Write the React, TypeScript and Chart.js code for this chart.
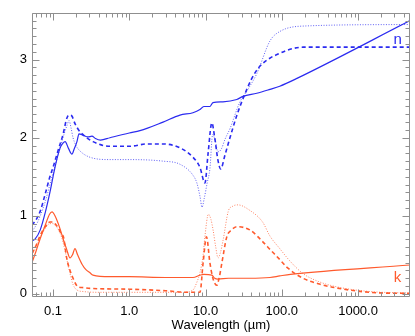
import React, { useEffect, useRef } from "react";
import { Chart, registerables } from "chart.js";

Chart.register(...registerables);

const BLUE = "#2b2bf0";
const ORANGE = "#ff5a2d";
const BLUE_LIGHT = "rgba(43,43,240,0.75)";
const ORANGE_LIGHT = "rgba(255,90,45,0.75)";
const AXIS = "#8f8f8f";
const FONT = "'Liberation Sans', Arial, Helvetica, sans-serif";

const xMin = 0.053;
const xMax = 4800;
const yMin = -0.04;
const yMax = 3.6;

const xTickValues = [0.1, 1, 10, 100, 1000];
const xTickLabels = ["0.1", "1.0", "10.0", "100.0", "1000.0"];
const yTickValues = [0, 1, 2, 3];
const yTickLabels = ["0", "1", "2", "3"];
const xTitle = "Wavelength (\u00b5m)";

// n, solid
const nSolidLambda = [0.053, 0.058, 0.068, 0.079, 0.091, 0.1, 0.112, 0.124, 0.135, 0.144, 0.16, 0.177, 0.19, 0.206, 0.219, 0.25, 0.287, 0.324, 0.36, 0.42, 0.558, 1.0, 1.38, 2.77, 4.62, 6.84, 8.45, 9.5, 11.4, 12.5, 16.9, 25.7, 31, 47, 70, 94, 158, 4800];
const nSolidValues = [0.68, 0.7, 0.82, 1.04, 1.3, 1.5, 1.72, 1.87, 1.93, 1.95, 1.86, 1.79, 1.86, 1.95, 2.05, 2.03, 2.01, 2.02, 1.99, 1.97, 2.0, 2.06, 2.09, 2.2, 2.29, 2.32, 2.36, 2.4, 2.4, 2.45, 2.46, 2.49, 2.53, 2.57, 2.62, 2.66, 2.76, 3.5];

// n, dashed
const nDashedLambda = [0.053, 0.06, 0.068, 0.079, 0.091, 0.1, 0.116, 0.135, 0.153, 0.165, 0.176, 0.194, 0.22, 0.247, 0.334, 0.558, 1.0, 1.71, 2.77, 4.62, 6.84, 8.45, 9.82, 10.8, 12.1, 13.2, 14.5, 15.8, 18, 20.9, 26, 31, 40, 50, 70, 94, 117, 190, 4800];
const nDashedValues = [0.88, 0.95, 1.06, 1.28, 1.5, 1.62, 1.83, 2.04, 2.26, 2.29, 2.28, 2.18, 2.09, 2.04, 1.95, 1.89, 1.89, 1.92, 1.92, 1.87, 1.75, 1.62, 1.42, 1.8, 2.19, 2.0, 1.72, 1.6, 1.78, 2.0, 2.3, 2.5, 2.75, 2.9, 3.02, 3.08, 3.12, 3.16, 3.16];

// n, dotted
const nDottedLambda = [0.053, 0.06, 0.068, 0.079, 0.091, 0.1, 0.124, 0.14, 0.153, 0.162, 0.172, 0.183, 0.2, 0.226, 0.305, 0.558, 1.0, 2.77, 4.62, 6.84, 7.7, 8.45, 9.0, 9.6, 10.5, 11.4, 12.4, 13.5, 14.5, 16, 18, 21, 28, 36, 47, 70, 94, 190, 4800];
const nDottedValues = [0.8, 0.88, 1.0, 1.18, 1.4, 1.55, 1.87, 2.05, 2.16, 2.22, 2.13, 2.0, 1.9, 1.83, 1.75, 1.72, 1.72, 1.7, 1.66, 1.52, 1.42, 1.25, 1.11, 1.22, 1.42, 1.6, 2.04, 1.95, 1.82, 1.85, 1.98, 2.12, 2.45, 2.62, 2.82, 3.24, 3.36, 3.43, 3.45];

// k, solid
const kSolidLambda = [0.053, 0.06, 0.068, 0.079, 0.09, 0.097, 0.106, 0.124, 0.135, 0.15, 0.167, 0.18, 0.194, 0.21, 0.24, 0.27, 0.305, 0.334, 0.558, 1.0, 3.0, 6.84, 8.45, 9.5, 12.1, 13.2, 14.5, 20, 38, 70, 94, 130, 4800];
const kSolidValues = [0.4, 0.55, 0.71, 0.88, 1.02, 1.05, 1.0, 0.83, 0.71, 0.58, 0.46, 0.5, 0.58, 0.5, 0.38, 0.31, 0.27, 0.24, 0.22, 0.22, 0.21, 0.21, 0.24, 0.25, 0.24, 0.2, 0.19, 0.2, 0.2, 0.21, 0.23, 0.25, 0.37];

// k, dashed
const kDashedLambda = [0.053, 0.06, 0.068, 0.079, 0.091, 0.1, 0.106, 0.118, 0.13, 0.137, 0.151, 0.167, 0.183, 0.2, 0.213, 0.25, 0.305, 1.0, 3.0, 6.0, 8.45, 9.3, 10.3, 11.4, 12.5, 14.0, 15.2, 16.4, 19.0, 22, 25.8, 38, 56, 70, 94, 117, 190, 300, 527, 1430, 4800];
const kDashedValues = [0.52, 0.62, 0.75, 0.86, 0.92, 0.92, 0.9, 0.84, 0.76, 0.73, 0.46, 0.3, 0.2, 0.12, 0.09, 0.08, 0.07, 0.06, 0.04, 0.02, 0.02, 0.4, 0.73, 0.4, 0.2, 0.11, 0.22, 0.4, 0.73, 0.82, 0.86, 0.82, 0.67, 0.57, 0.44, 0.34, 0.2, 0.13, 0.075, 0.02, 0.005];

// k, dotted
const kDottedLambda = [0.053, 0.06, 0.068, 0.079, 0.091, 0.1, 0.106, 0.118, 0.13, 0.144, 0.155, 0.167, 0.183, 0.206, 0.25, 0.4, 1.0, 5.0, 6.84, 7.7, 8.45, 9.3, 9.8, 10.9, 11.8, 12.6, 13.6, 14.6, 15.6, 17, 19.9, 22.5, 26.5, 38, 56, 70, 94, 128, 190, 300, 527, 1430, 4800];
const kDottedValues = [0.5, 0.6, 0.72, 0.84, 0.9, 0.9, 0.88, 0.82, 0.72, 0.55, 0.4, 0.26, 0.12, 0.05, 0.03, 0.02, 0.02, 0.02, 0.05, 0.15, 0.27, 0.5, 0.73, 1.02, 0.95, 0.81, 0.6, 0.46, 0.52, 0.69, 1.06, 1.12, 1.14, 1.07, 0.92, 0.74, 0.58, 0.42, 0.26, 0.16, 0.09, 0.03, 0.01];

// curve labels
const nLabel = { text: "n", x: 3300, y: 3.25 };
const kLabel = { text: "k", x: 3300, y: 0.2 };

function pts(l: number[], v: number[]) {
  return l.map((x, i) => ({ x, y: v[i] }));
}

const framePlugin = {
  id: "frame",
  afterDraw(chart: any) {
    const { ctx, chartArea, scales } = chart;
    const xs = scales.x;
    const ys = scales.y;
    const L = Math.round(chartArea.left) + 0.5;
    const R = Math.round(chartArea.right) - 0.5;
    const T = Math.round(chartArea.top) + 0.5;
    const B = Math.round(chartArea.bottom) - 0.5;
    ctx.save();
    ctx.strokeStyle = AXIS;
    ctx.lineWidth = 1;
    ctx.beginPath();
    ctx.rect(L, T, R - L, B - T);
    ctx.stroke();
    ctx.beginPath();
    for (let d = -2; d <= 3; d++) {
      for (let m = 1; m <= 9; m++) {
        const v = m * Math.pow(10, d);
        if (v < xMin || v > xMax) continue;
        const px = Math.round(xs.getPixelForValue(v)) + 0.5;
        const len = m === 1 ? 7 : 4;
        ctx.moveTo(px, B);
        ctx.lineTo(px, B - len);
        ctx.moveTo(px, T);
        ctx.lineTo(px, T + len);
      }
    }
    for (let i = 0; i <= 36; i++) {
      const v = i / 10;
      if (v < yMin || v > yMax) continue;
      const py = Math.round(ys.getPixelForValue(v)) + 0.5;
      const len = i % 10 === 0 ? 7 : 4;
      ctx.moveTo(L, py);
      ctx.lineTo(L + len, py);
      ctx.moveTo(R, py);
      ctx.lineTo(R - len, py);
    }
    ctx.stroke();
    ctx.font = `15px ${FONT}`;
    ctx.textAlign = "center";
    ctx.textBaseline = "middle";
    ctx.fillStyle = BLUE;
    ctx.fillText(nLabel.text, xs.getPixelForValue(nLabel.x), ys.getPixelForValue(nLabel.y));
    ctx.fillStyle = ORANGE;
    ctx.fillText(kLabel.text, xs.getPixelForValue(kLabel.x), ys.getPixelForValue(kLabel.y));
    ctx.restore();
  },
};

export default function App() {
  const ref = useRef<HTMLCanvasElement | null>(null);
  useEffect(() => {
    document.body.style.margin = "0";
    const canvas = ref.current;
    if (!canvas) return;
    const line = (l: number[], v: number[], color: string, style: "solid" | "dashed" | "dotted") => ({
      data: pts(l, v),
      borderColor: style === "dotted" ? (color === BLUE ? BLUE_LIGHT : ORANGE_LIGHT) : color,
      backgroundColor: color,
      borderWidth: style === "dashed" ? 1.6 : style === "dotted" ? 1 : 1.2,
      borderDash: style === "dashed" ? [4, 3] : style === "dotted" ? [1, 1.6] : [],
      pointRadius: 0,
      fill: false,
      cubicInterpolationMode: "monotone" as const,
    });
    const chart = new Chart(canvas, {
      type: "line",
      data: {
        datasets: [
          line(kDottedLambda, kDottedValues, ORANGE, "dotted"),
          line(kDashedLambda, kDashedValues, ORANGE, "dashed"),
          line(kSolidLambda, kSolidValues, ORANGE, "solid"),
          line(nDottedLambda, nDottedValues, BLUE, "dotted"),
          line(nDashedLambda, nDashedValues, BLUE, "dashed"),
          line(nSolidLambda, nSolidValues, BLUE, "solid"),
        ],
      },
      options: {
        animation: false,
        responsive: false,
        devicePixelRatio: 1,
        layout: { padding: { left: 0, right: 5, top: 4, bottom: 0 } },
        plugins: { legend: { display: false }, tooltip: { enabled: false } },
        scales: {
          x: {
            type: "logarithmic",
            min: xMin,
            max: xMax,
            grid: { display: false, drawTicks: false },
            border: { display: false },
            afterBuildTicks: (s: any) => {
              s.ticks = xTickValues.map((v) => ({ value: v }));
            },
            afterFit: (s: any) => {
              s.height = 39;
            },
            ticks: {
              autoSkip: false,
              maxRotation: 0,
              padding: 7,
              color: "#000",
              font: { family: FONT, size: 13 },
              callback: (_v: any, i: number) => xTickLabels[i],
            },
            title: {
              display: true,
              text: xTitle,
              color: "#000",
              font: { family: FONT, size: 13 },
              padding: { top: 0, bottom: 3 },
            },
          },
          y: {
            type: "linear",
            min: yMin,
            max: yMax,
            grid: { display: false, drawTicks: false },
            border: { display: false },
            afterBuildTicks: (s: any) => {
              s.ticks = yTickValues.map((v) => ({ value: v }));
            },
            afterFit: (s: any) => {
              s.width = 32;
            },
            ticks: {
              padding: 5,
              color: "#000",
              font: { family: FONT, size: 13 },
              callback: (_v: any, i: number) => yTickLabels[i],
            },
          },
        },
      },
      plugins: [framePlugin],
    });
    return () => chart.destroy();
  }, []);
  return <canvas ref={ref} width={415} height={336} style={{ display: "block", width: 415, height: 336 }} />;
}
